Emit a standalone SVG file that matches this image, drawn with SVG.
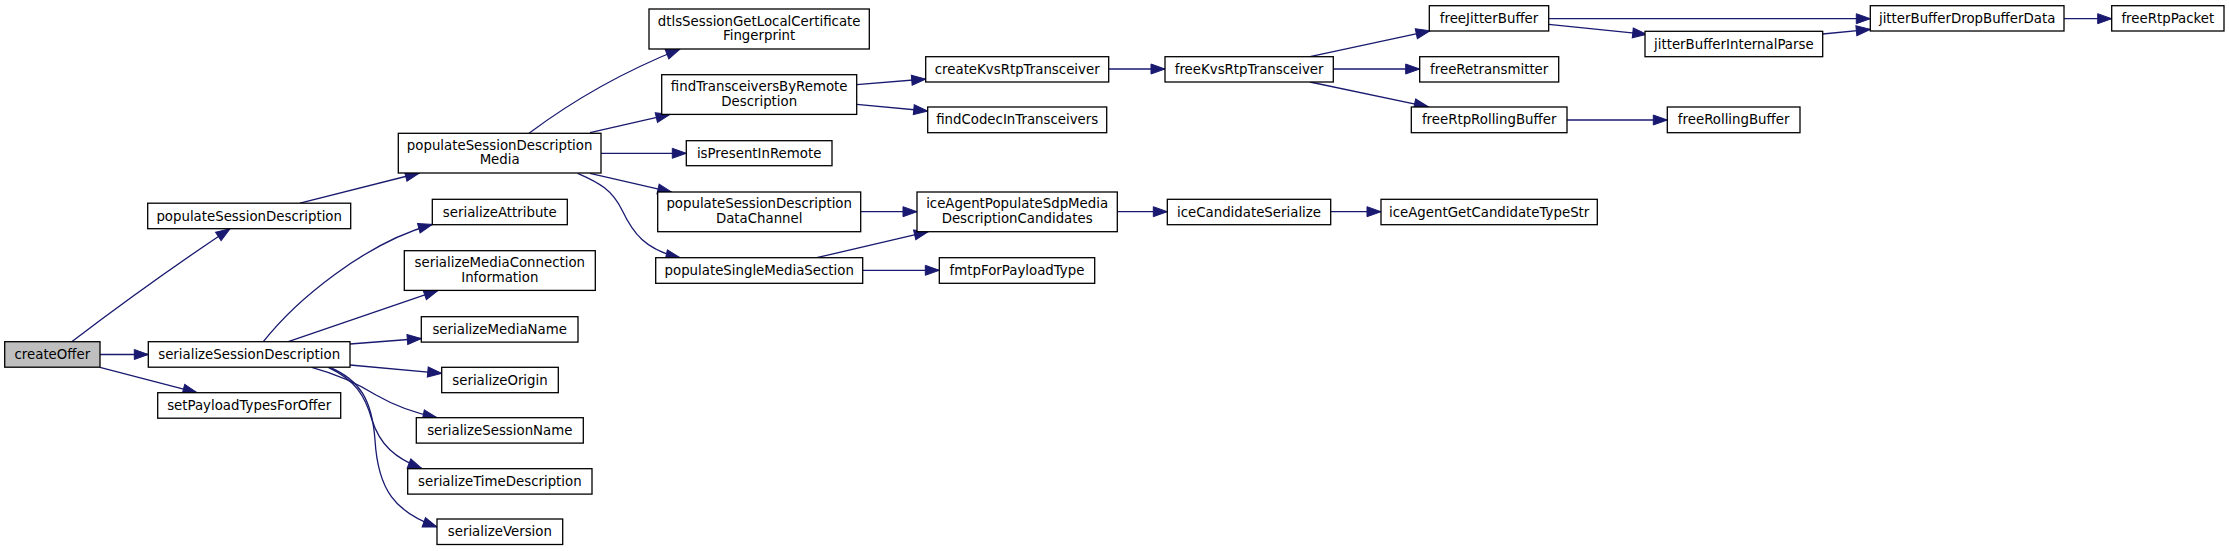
<svg xmlns="http://www.w3.org/2000/svg" width="2229" height="551" viewBox="0 0 2229 551">
<style>
.node rect{fill:#ffffff;stroke:#000000;stroke-width:1.3}
.root rect{fill:#bfbfbf}
text{font-family:"DejaVu Sans","Liberation Sans",sans-serif;font-size:13.33px;text-anchor:middle;fill:#000000}
.edges path{fill:none;stroke:#191970;stroke-width:1.3;marker-end:url(#arr)}
</style>
<defs>
<marker id="arr" markerUnits="userSpaceOnUse" markerWidth="16" markerHeight="12" refX="14" refY="5" orient="auto" overflow="visible">
<path d="M0,0 L14,5 L0,10 Z" fill="#191970" stroke="#191970" stroke-width="1"/>
</marker>
</defs>
<rect width="2229" height="551" fill="#ffffff"/>
<g id="connectors" class="edges">
<path d="M71.7,341.7 C120,305 180,262 230,228.7"/>
<path d="M100,354.5 L148.3,354.5"/>
<path d="M100,367.3 L197,392.7"/>
<path d="M300,203.2 L419.3,173"/>
<path d="M263.3,341.7 C296,300 365,243 432.3,224.5"/>
<path d="M288.3,341.7 L438,290.4"/>
<path d="M350,344 L421.3,338.5"/>
<path d="M350,365 L441.7,373.3"/>
<path d="M311.7,367.3 C340,375 360,385 376,395 C395,406 415,413 437,417.7"/>
<path d="M328.3,367.3 C355,380 365,395 372,420 C380,445 395,458 422,468.7"/>
<path d="M330,367.3 C360,380 372,400 375,440 C378,490 395,512 437,527"/>
<path d="M529,133.3 C560,110 610,77 680,49"/>
<path d="M590,132.7 L670,114.4"/>
<path d="M601,153.3 L686.3,153.3"/>
<path d="M590,173.3 L671.7,192.2"/>
<path d="M577.7,173.3 C600,183 612,190 622,210 C633,233 645,250 680,257.7"/>
<path d="M856.7,84.7 L925.7,79"/>
<path d="M856.7,104.3 L927.7,111"/>
<path d="M1108.7,69 L1165,69"/>
<path d="M860.7,211.7 L917,211.7"/>
<path d="M816.7,257.7 L928.3,231.7"/>
<path d="M862.7,270.3 L939.3,270.3"/>
<path d="M1117.3,211.7 L1167.3,211.7"/>
<path d="M1330.7,211.7 L1381,211.7"/>
<path d="M1310,56.7 L1430,30.8"/>
<path d="M1333.3,69 L1419.7,69"/>
<path d="M1310,82 L1428.3,106.8"/>
<path d="M1548.7,18.7 L1870.3,18.7"/>
<path d="M1548.7,24.3 L1646.7,34.3"/>
<path d="M1822.7,34 L1870.3,29.3"/>
<path d="M2064,18.7 L2111.7,18.7"/>
<path d="M1567,120 L1667.3,120"/>
</g>
<g id="createOffer" class="node root"><rect x="4.7" y="341.7" width="95.3" height="25.5"/><text x="52.35" y="359">createOffer</text></g>
<g id="populateSessionDescription" class="node"><rect x="147.7" y="203.2" width="203" height="25.5"/><text x="249.2" y="220.5">populateSessionDescription</text></g>
<g id="serializeSessionDescription" class="node"><rect x="148.3" y="341.7" width="201.7" height="25.5"/><text x="249.15" y="359">serializeSessionDescription</text></g>
<g id="setPayloadTypesForOffer" class="node"><rect x="157.7" y="392.7" width="183" height="25.5"/><text x="249.2" y="410">setPayloadTypesForOffer</text></g>
<g id="populateSessionDescriptionMedia" class="node"><rect x="398.3" y="133.3" width="202.7" height="39.7"/><text x="499.65" y="149.6">populateSessionDescription</text><text x="499.65" y="164.1">Media</text></g>
<g id="serializeAttribute" class="node"><rect x="432.3" y="199.3" width="135" height="25.4"/><text x="499.8" y="216.6">serializeAttribute</text></g>
<g id="serializeMediaConnectionInformation" class="node"><rect x="404.3" y="250.7" width="191" height="39.7"/><text x="499.8" y="267">serializeMediaConnection</text><text x="499.8" y="281.5">Information</text></g>
<g id="serializeMediaName" class="node"><rect x="421.3" y="316.7" width="156.7" height="25.4"/><text x="499.65" y="334">serializeMediaName</text></g>
<g id="serializeOrigin" class="node"><rect x="441.7" y="367.3" width="116.6" height="25.4"/><text x="500" y="384.6">serializeOrigin</text></g>
<g id="serializeSessionName" class="node"><rect x="416.3" y="417.7" width="167" height="25.4"/><text x="499.8" y="435">serializeSessionName</text></g>
<g id="serializeTimeDescription" class="node"><rect x="407.7" y="468.7" width="184.3" height="25.4"/><text x="499.85" y="486">serializeTimeDescription</text></g>
<g id="serializeVersion" class="node"><rect x="437" y="519" width="125.7" height="25.5"/><text x="499.85" y="536.3">serializeVersion</text></g>
<g id="dtlsSessionGetLocalCertificateFingerprint" class="node"><rect x="649" y="9" width="220.3" height="40"/><text x="759.15" y="25.5">dtlsSessionGetLocalCertificate</text><text x="759.15" y="40">Fingerprint</text></g>
<g id="findTransceiversByRemoteDescription" class="node"><rect x="661.7" y="74.7" width="195" height="39.7"/><text x="759.2" y="91">findTransceiversByRemote</text><text x="759.2" y="105.5">Description</text></g>
<g id="isPresentInRemote" class="node"><rect x="686.3" y="140.7" width="145.7" height="25"/><text x="759.15" y="157.8">isPresentInRemote</text></g>
<g id="populateSessionDescriptionDataChannel" class="node"><rect x="657.7" y="192" width="203" height="39.7"/><text x="759.2" y="208.3">populateSessionDescription</text><text x="759.2" y="222.8">DataChannel</text></g>
<g id="populateSingleMediaSection" class="node"><rect x="655.7" y="257.7" width="207" height="25.6"/><text x="759.2" y="275.1">populateSingleMediaSection</text></g>
<g id="createKvsRtpTransceiver" class="node"><rect x="925.7" y="56.7" width="183" height="25.3"/><text x="1017.2" y="73.9">createKvsRtpTransceiver</text></g>
<g id="findCodecInTransceivers" class="node"><rect x="927.7" y="107" width="179" height="25.7"/><text x="1017.2" y="124.4">findCodecInTransceivers</text></g>
<g id="iceAgentPopulateSdpMediaDescriptionCandidates" class="node"><rect x="917" y="192" width="200.3" height="39.7"/><text x="1017.15" y="208.3">iceAgentPopulateSdpMedia</text><text x="1017.15" y="222.8">DescriptionCandidates</text></g>
<g id="fmtpForPayloadType" class="node"><rect x="939.3" y="257.7" width="155.4" height="25.6"/><text x="1017" y="275.1">fmtpForPayloadType</text></g>
<g id="freeKvsRtpTransceiver" class="node"><rect x="1165" y="56.7" width="168.3" height="25.3"/><text x="1249.15" y="73.9">freeKvsRtpTransceiver</text></g>
<g id="iceCandidateSerialize" class="node"><rect x="1167.3" y="199.3" width="163.4" height="25.4"/><text x="1249" y="216.6">iceCandidateSerialize</text></g>
<g id="iceAgentGetCandidateTypeStr" class="node"><rect x="1381" y="199.3" width="216.3" height="25.4"/><text x="1489.15" y="216.6">iceAgentGetCandidateTypeStr</text></g>
<g id="freeJitterBuffer" class="node"><rect x="1429.3" y="5.7" width="119.4" height="25.3"/><text x="1489" y="22.9">freeJitterBuffer</text></g>
<g id="freeRetransmitter" class="node"><rect x="1419.7" y="56.7" width="139" height="25.3"/><text x="1489.2" y="73.9">freeRetransmitter</text></g>
<g id="freeRtpRollingBuffer" class="node"><rect x="1411.3" y="107" width="155.7" height="25.7"/><text x="1489.15" y="124.4">freeRtpRollingBuffer</text></g>
<g id="jitterBufferInternalParse" class="node"><rect x="1645" y="31.3" width="177.7" height="25.4"/><text x="1733.85" y="48.6">jitterBufferInternalParse</text></g>
<g id="freeRollingBuffer" class="node"><rect x="1667.3" y="107" width="132.7" height="25.7"/><text x="1733.65" y="124.4">freeRollingBuffer</text></g>
<g id="jitterBufferDropBufferData" class="node"><rect x="1870.3" y="5.7" width="193.7" height="25.3"/><text x="1967.15" y="22.9">jitterBufferDropBufferData</text></g>
<g id="freeRtpPacket" class="node"><rect x="2111.7" y="5.7" width="112.3" height="25.3"/><text x="2167.85" y="22.9">freeRtpPacket</text></g>
</svg>
